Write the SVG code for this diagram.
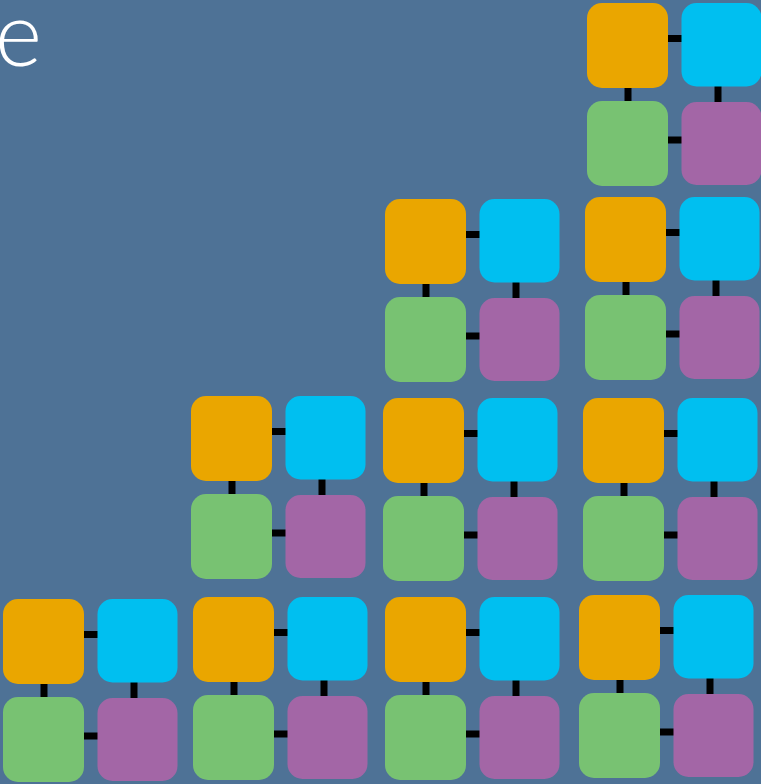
<svg xmlns="http://www.w3.org/2000/svg" xmlns:xlink="http://www.w3.org/1999/xlink" width="761" height="784" viewBox="0 0 761 784">
<style>
.o{fill:#EAA600}
.b{fill:#00BFF0}
.g{fill:#78C272}
.p{fill:#A366A6}
.c{fill:#000}
.t{font-family:Lato,"Open Sans","Liberation Sans",sans-serif;font-weight:300;font-size:90px;fill:#fff}
</style>
<defs>
<g id="links">
<rect class="c" x="80" y="32" width="16" height="7"/>
<rect class="c" x="37.5" y="84" width="7" height="15"/>
<rect class="c" x="127.5" y="82" width="7" height="18"/>
<rect class="c" x="80" y="133.5" width="16" height="7"/>
</g>
</defs>
<rect width="761" height="784" fill="#4E7296"/>
<text class="t" x="42" y="66" text-anchor="end">e</text>
<g id="connectors">
<use xlink:href="#links" transform="translate(3,599)"/>
<use xlink:href="#links" transform="translate(193,597)"/>
<use xlink:href="#links" transform="translate(385,597)"/>
<use xlink:href="#links" transform="translate(579,595)"/>
<use xlink:href="#links" transform="translate(191,396)"/>
<use xlink:href="#links" transform="translate(383,398)"/>
<use xlink:href="#links" transform="translate(583,398)"/>
<use xlink:href="#links" transform="translate(385,199)"/>
<use xlink:href="#links" transform="translate(585,197)"/>
<use xlink:href="#links" transform="translate(587,3)"/>
</g>
<g id="block1" transform="translate(3,599)">
<g id="b1-orange"><rect class="o" x="0" y="0" width="81" height="85" rx="15"/></g>
<g id="b1-blue"><rect class="b" x="94.5" y="0" width="80" height="83.5" rx="15"/></g>
<g id="b1-green"><rect class="g" x="0" y="98" width="81" height="85" rx="15"/></g>
<g id="b1-purple"><rect class="p" x="94.5" y="99" width="80" height="83" rx="15"/></g>
</g>
<g id="block2" transform="translate(193,597)">
<g id="b2-orange"><rect class="o" x="0" y="0" width="81" height="85" rx="15"/></g>
<g id="b2-blue"><rect class="b" x="94.5" y="0" width="80" height="83.5" rx="15"/></g>
<g id="b2-green"><rect class="g" x="0" y="98" width="81" height="85" rx="15"/></g>
<g id="b2-purple"><rect class="p" x="94.5" y="99" width="80" height="83" rx="15"/></g>
</g>
<g id="block3" transform="translate(385,597)">
<g id="b3-orange"><rect class="o" x="0" y="0" width="81" height="85" rx="15"/></g>
<g id="b3-blue"><rect class="b" x="94.5" y="0" width="80" height="83.5" rx="15"/></g>
<g id="b3-green"><rect class="g" x="0" y="98" width="81" height="85" rx="15"/></g>
<g id="b3-purple"><rect class="p" x="94.5" y="99" width="80" height="83" rx="15"/></g>
</g>
<g id="block4" transform="translate(579,595)">
<g id="b4-orange"><rect class="o" x="0" y="0" width="81" height="85" rx="15"/></g>
<g id="b4-blue"><rect class="b" x="94.5" y="0" width="80" height="83.5" rx="15"/></g>
<g id="b4-green"><rect class="g" x="0" y="98" width="81" height="85" rx="15"/></g>
<g id="b4-purple"><rect class="p" x="94.5" y="99" width="80" height="83" rx="15"/></g>
</g>
<g id="block5" transform="translate(191,396)">
<g id="b5-orange"><rect class="o" x="0" y="0" width="81" height="85" rx="15"/></g>
<g id="b5-blue"><rect class="b" x="94.5" y="0" width="80" height="83.5" rx="15"/></g>
<g id="b5-green"><rect class="g" x="0" y="98" width="81" height="85" rx="15"/></g>
<g id="b5-purple"><rect class="p" x="94.5" y="99" width="80" height="83" rx="15"/></g>
</g>
<g id="block6" transform="translate(383,398)">
<g id="b6-orange"><rect class="o" x="0" y="0" width="81" height="85" rx="15"/></g>
<g id="b6-blue"><rect class="b" x="94.5" y="0" width="80" height="83.5" rx="15"/></g>
<g id="b6-green"><rect class="g" x="0" y="98" width="81" height="85" rx="15"/></g>
<g id="b6-purple"><rect class="p" x="94.5" y="99" width="80" height="83" rx="15"/></g>
</g>
<g id="block7" transform="translate(583,398)">
<g id="b7-orange"><rect class="o" x="0" y="0" width="81" height="85" rx="15"/></g>
<g id="b7-blue"><rect class="b" x="94.5" y="0" width="80" height="83.5" rx="15"/></g>
<g id="b7-green"><rect class="g" x="0" y="98" width="81" height="85" rx="15"/></g>
<g id="b7-purple"><rect class="p" x="94.5" y="99" width="80" height="83" rx="15"/></g>
</g>
<g id="block8" transform="translate(385,199)">
<g id="b8-orange"><rect class="o" x="0" y="0" width="81" height="85" rx="15"/></g>
<g id="b8-blue"><rect class="b" x="94.5" y="0" width="80" height="83.5" rx="15"/></g>
<g id="b8-green"><rect class="g" x="0" y="98" width="81" height="85" rx="15"/></g>
<g id="b8-purple"><rect class="p" x="94.5" y="99" width="80" height="83" rx="15"/></g>
</g>
<g id="block9" transform="translate(585,197)">
<g id="b9-orange"><rect class="o" x="0" y="0" width="81" height="85" rx="15"/></g>
<g id="b9-blue"><rect class="b" x="94.5" y="0" width="80" height="83.5" rx="15"/></g>
<g id="b9-green"><rect class="g" x="0" y="98" width="81" height="85" rx="15"/></g>
<g id="b9-purple"><rect class="p" x="94.5" y="99" width="80" height="83" rx="15"/></g>
</g>
<g id="block10" transform="translate(587,3)">
<g id="b10-orange"><rect class="o" x="0" y="0" width="81" height="85" rx="15"/></g>
<g id="b10-blue"><rect class="b" x="94.5" y="0" width="80" height="83.5" rx="15"/></g>
<g id="b10-green"><rect class="g" x="0" y="98" width="81" height="85" rx="15"/></g>
<g id="b10-purple"><rect class="p" x="94.5" y="99" width="80" height="83" rx="15"/></g>
</g>
</svg>
